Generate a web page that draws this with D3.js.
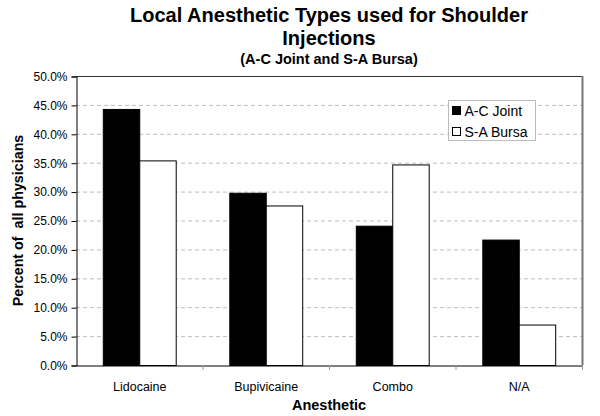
<!DOCTYPE html>
<html><head><meta charset="utf-8">
<script src="https://cdn.jsdelivr.net/npm/d3@7"></script>
<style>body{margin:0;background:#fff}svg{display:block}text{font-family:"Liberation Sans",Arial,sans-serif}</style>
</head><body>
<svg id="c" width="600" height="416"></svg>
<script>
const categories = ["Lidocaine", "Bupivicaine", "Combo", "N/A"];
const seriesNames = ["A-C Joint", "S-A Bursa"];
const acJoint = [44.3, 29.8, 24.1, 21.7];
const saBursa = [35.4, 27.6, 34.7, 7.0];
const yTicks = [0, 5, 10, 15, 20, 25, 30, 35, 40, 45, 50];
const titleLines = ["Local Anesthetic Types used for Shoulder", "Injections"];
const subtitle = "(A-C Joint and S-A Bursa)";
const xTitle = "Anesthetic";
const yTitle = "Percent of  all physicians";

const svg = d3.select("#c");
const L = 76, R = 582, T = 76, B = 365;
const x = d3.scaleBand().domain(categories).range([L, R]).paddingInner(0).paddingOuter(0);
const x1 = d3.scaleBand().domain(seriesNames).range([0, x.bandwidth()]).paddingInner(0).paddingOuter(0.735);
const y = d3.scaleLinear().domain([0, 50]).range([B, T]);
const colors = {"A-C Joint": "#000", "S-A Bursa": "#fff"};

// gridlines
svg.append("g").selectAll("line").data(yTicks.filter(d => d > 0 && d < 50)).join("line")
  .attr("x1", L).attr("x2", R).attr("y1", d => y(d) + 0.5).attr("y2", d => y(d) + 0.5)
  .attr("stroke", "#bdbdbd").attr("stroke-dasharray", "4,3");

// plot border top/right
svg.append("line").attr("x1", L).attr("x2", R).attr("y1", T + 0.5).attr("y2", T + 0.5).attr("stroke", "#333");
svg.append("line").attr("x1", R + 0.5).attr("x2", R + 0.5).attr("y1", T).attr("y2", B).attr("stroke", "#777").attr("stroke-width", 2);

// bars
const data = categories.map((c, i) => ({c, vals: [{s: seriesNames[0], v: acJoint[i]}, {s: seriesNames[1], v: saBursa[i]}]}));
const g = svg.append("g").selectAll("g").data(data).join("g").attr("transform", d => `translate(${x(d.c)},0)`);
g.selectAll("rect").data(d => d.vals).join("rect")
  .attr("x", d => x1(d.s) + 0.5).attr("width", x1.bandwidth())
  .attr("y", d => y(d.v) + 0.5).attr("height", d => y(0) - y(d.v))
  .attr("fill", d => colors[d.s]).attr("stroke", "#000").attr("stroke-width", 1);

// y axis
const ya = svg.append("g").attr("transform", `translate(${L + 0.5},0.5)`)
  .call(d3.axisLeft(y).tickValues(yTicks).tickFormat(d => d.toFixed(1) + "%").tickSize(5).tickPadding(4));
ya.selectAll("text").attr("font-size", 12).attr("fill", "#000").style("font-family", '"Liberation Sans",Arial,sans-serif');
ya.selectAll("line,path").attr("stroke", "#000");

// x axis
const xa = svg.append("g").attr("transform", `translate(0.5,${B + 0.5})`)
  .call(d3.axisBottom(x).tickSize(0).tickPadding(17));
xa.selectAll("text").attr("font-size", 12.5).attr("fill", "#000").style("font-family", '"Liberation Sans",Arial,sans-serif');
xa.select("path").attr("stroke", "#000");
// boundary ticks
svg.append("g").selectAll("line").data(categories.slice(1).map(c => x(c)).concat([R])).join("line")
  .attr("x1", d => d + 0.5).attr("x2", d => d + 0.5).attr("y1", B).attr("y2", B + 5).attr("stroke", "#999");

// titles
const cx = (L + R) / 2;
svg.append("text").attr("x", cx).attr("y", 21.5).attr("text-anchor", "middle").attr("font-size", 20).attr("font-weight", "bold").text(titleLines[0]);
svg.append("text").attr("x", cx).attr("y", 45).attr("text-anchor", "middle").attr("font-size", 20).attr("font-weight", "bold").text(titleLines[1]);
svg.append("text").attr("x", cx).attr("y", 64).attr("text-anchor", "middle").attr("font-size", 14.5).attr("font-weight", "bold").text(subtitle);
svg.append("text").attr("x", cx).attr("y", 410).attr("text-anchor", "middle").attr("font-size", 14.5).attr("font-weight", "bold").text(xTitle);
svg.append("text").attr("transform", `translate(23,${(T + B) / 2}) rotate(-90)`).attr("text-anchor", "middle")
  .attr("font-size", 14.3).attr("font-weight", "bold").style("white-space", "pre").text(yTitle);

// legend
const lg = svg.append("g").attr("transform", "translate(448.5,100.5)");
lg.append("rect").attr("width", 87).attr("height", 40).attr("fill", "#fff").attr("stroke", "#bbb");
seriesNames.forEach((s, i) => {
  lg.append("rect").attr("x", 4).attr("y", 6 + i * 21).attr("width", 8).attr("height", 8).attr("fill", colors[s]).attr("stroke", "#000");
  lg.append("text").attr("x", 16).attr("y", 15 + i * 21).attr("font-size", 14).text(s);
});
</script>
</body></html>
